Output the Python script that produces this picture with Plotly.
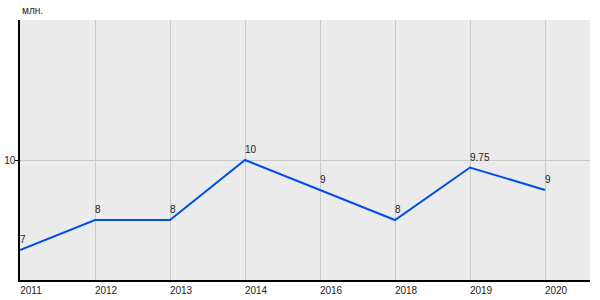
import plotly.graph_objects as go

years = ["2011", "2012", "2013", "2014", "2016", "2018", "2019", "2020"]
values = [7, 8, 8, 10, 9, 8, 9.75, 9]
labels = ["7", "8", "8", "10", "9", "8", "9.75", "9"]
xs = list(range(len(years)))

fig = go.Figure()
fig.add_trace(go.Scatter(
    x=xs, y=values, mode="lines",
    line=dict(color="#0050e6", width=2),
    cliponaxis=False, hoverinfo="skip",
))

annotations = [dict(
    x=x, y=v, text=t, xref="x", yref="y", xanchor="left", yanchor="bottom",
    showarrow=False, yshift=4, xshift=-1, borderpad=0,
    font=dict(family="Liberation Sans, Arial", size=10, color="#222"),
) for x, v, t in zip(xs, values, labels)]
annotations.append(dict(
    text="млн.", xref="paper", yref="paper", x=0, y=1, xanchor="left", yanchor="bottom",
    showarrow=False, yshift=2, font=dict(size=10, color="#222"),
))

fig.update_layout(
    width=600, height=300,
    margin=dict(l=20, r=10, t=20, b=20),
    paper_bgcolor="white", plot_bgcolor="#ebebeb",
    showlegend=False,
    font=dict(family="Liberation Sans, Arial", size=10, color="#222"),
    xaxis=dict(
        range=[0, 7.6], tickmode="array", tickvals=xs, ticktext=years,
        showgrid=True, gridcolor="#c8c8c8", gridwidth=1,
        showline=True, linecolor="black", linewidth=1.5,
        ticks="", ticklabelshift=11, zeroline=False, fixedrange=True,
        automargin=False,
    ),
    yaxis=dict(
        range=[6, 14.667], tickmode="array", tickvals=[10], ticktext=["10"],
        showgrid=True, gridcolor="#c8c8c8", gridwidth=1,
        showline=True, linecolor="black", linewidth=1.5,
        ticks="outside", ticklen=3, tickcolor="black", zeroline=False, fixedrange=True,
        automargin=False, ticklabelstandoff=-2,
    ),
    annotations=annotations,
)

fig.write_html("out.html")
